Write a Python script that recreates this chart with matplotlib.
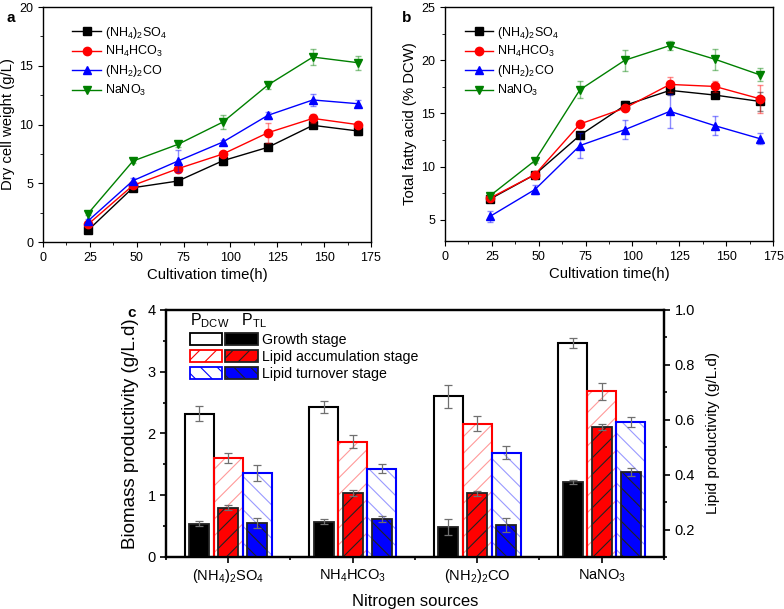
import matplotlib
matplotlib.use("Agg")
import numpy as np
import matplotlib.pyplot as plt
from matplotlib.patches import Patch
from matplotlib.legend_handler import HandlerTuple
from matplotlib.ticker import MultipleLocator

plt.rcParams["font.family"] = ["Liberation Sans", "DejaVu Sans"]
plt.rcParams["mathtext.fontset"] = "custom"
plt.rcParams["mathtext.rm"] = "Liberation Sans"
plt.rcParams["mathtext.it"] = "Liberation Sans"
plt.rcParams["hatch.linewidth"] = 0.8

# ── data ──────────────────────────────────────────────────
time_h = [24, 48, 72, 96, 120, 144, 168]
series_names = [r"(NH$_4$)$_2$SO$_4$", r"NH$_4$HCO$_3$", r"(NH$_2$)$_2$CO", r"NaNO$_3$"]

dcw_so4  = [0.99, 4.62, 5.19, 6.92, 8.06, 9.93, 9.45]
dcw_hco3 = [1.50, 4.82, 6.24, 7.49, 9.30, 10.52, 9.99]
dcw_urea = [1.79, 5.22, 6.89, 8.51, 10.78, 12.09, 11.77]
dcw_no3  = [2.41, 6.89, 8.31, 10.21, 13.36, 15.74, 15.26]
dcw_so4_err  = [0.15, 0.10, 0.12, 0.40, 0.15, 0.20, 0.35]
dcw_hco3_err = [0.15, 0.15, 0.30, 0.15, 0.85, 0.40, 0.20]
dcw_urea_err = [0.15, 0.20, 0.90, 0.20, 0.30, 0.50, 0.30]
dcw_no3_err  = [0.15, 0.15, 0.20, 0.60, 0.30, 0.70, 0.60]

tfa_so4  = [6.94, 9.25, 12.94, 15.75, 17.16, 16.72, 16.12]
tfa_hco3 = [7.03, 9.25, 14.00, 15.50, 17.72, 17.53, 16.37]
tfa_urea = [5.31, 7.84, 11.97, 13.47, 15.19, 13.84, 12.62]
tfa_no3  = [7.25, 10.56, 17.22, 20.00, 21.37, 20.09, 18.62]
tfa_so4_err  = [0.20, 0.20, 0.30, 0.40, 0.40, 0.30, 0.90]
tfa_hco3_err = [0.20, 0.20, 0.20, 0.30, 0.70, 0.50, 1.30]
tfa_urea_err = [0.50, 0.40, 1.20, 0.90, 1.60, 0.90, 0.50]
tfa_no3_err  = [0.20, 0.20, 0.80, 1.00, 0.40, 1.00, 0.60]

sources = [r"(NH$_4$)$_2$SO$_4$", r"NH$_4$HCO$_3$", r"(NH$_2$)$_2$CO", r"NaNO$_3$"]
stages = ["Growth stage", "Lipid accumulation stage", "Lipid turnover stage"]
# biomass productivity P_DCW (g/L.d)
pdcw_growth   = [2.32, 2.43, 2.60, 3.46]
pdcw_accum    = [1.61, 1.87, 2.16, 2.68]
pdcw_turnover = [1.36, 1.43, 1.69, 2.19]
pdcw_growth_err   = [0.12, 0.10, 0.19, 0.08]
pdcw_accum_err    = [0.08, 0.10, 0.12, 0.13]
pdcw_turnover_err = [0.13, 0.07, 0.10, 0.08]
# lipid productivity P_TL (g/L.d)
ptl_growth   = [0.222, 0.229, 0.210, 0.372]
ptl_accum    = [0.280, 0.334, 0.332, 0.575]
ptl_turnover = [0.224, 0.238, 0.217, 0.410]
ptl_growth_err   = [0.009, 0.009, 0.030, 0.007]
ptl_accum_err    = [0.009, 0.011, 0.009, 0.011]
ptl_turnover_err = [0.018, 0.011, 0.025, 0.016]

line_colors = ["black", "red", "blue", "green"]
markers = ["s", "o", "^", "v"]

fig = plt.figure(figsize=(7.84, 6.09), dpi=100)
ax_a = fig.add_axes([0.0548, 0.6026, 0.4184, 0.3859])
ax_b = fig.add_axes([0.5676, 0.6043, 0.4184, 0.3842])
ax_c = fig.add_axes([0.2117, 0.0854, 0.6352, 0.4056])


def line_panel(ax, ys, errs, ylim, ylabel, major, legend_x):
    for y, e, c, m, name in zip(ys, errs, line_colors, markers, series_names):
        ax.errorbar(time_h, y, yerr=e, fmt="none", ecolor=c, alpha=0.45,
                    elinewidth=1, capsize=2, capthick=1)
        ax.plot(time_h, y, color=c, marker=m, markersize=6, linewidth=1,
                label=name)
    ax.set_xlim(0, 175)
    ax.set_ylim(*ylim)
    ax.xaxis.set_major_locator(MultipleLocator(25))
    ax.xaxis.set_minor_locator(MultipleLocator(12.5))
    ax.yaxis.set_major_locator(MultipleLocator(major))
    ax.yaxis.set_minor_locator(MultipleLocator(major / 2))
    ax.tick_params(which="both", direction="out", labelsize=9, top=False, right=False)
    ax.tick_params(which="major", length=3.5)
    ax.tick_params(which="minor", length=2)
    ax.set_xlabel("Cultivation time(h)", fontsize=10.7, labelpad=3)
    ax.set_ylabel(ylabel, fontsize=10.7, labelpad=3)
    ax.legend(loc="upper left", bbox_to_anchor=(legend_x, 0.925), frameon=False,
              fontsize=9, handlelength=2.3, handletextpad=0.3,
              labelspacing=0.3, borderpad=0, borderaxespad=0)
    for s in ax.spines.values():
        s.set_linewidth(1)


line_panel(ax_a, [dcw_so4, dcw_hco3, dcw_urea, dcw_no3],
           [dcw_so4_err, dcw_hco3_err, dcw_urea_err, dcw_no3_err],
           (0, 20), "Dry cell weight (g/L)", 5, 0.09)
line_panel(ax_b, [tfa_so4, tfa_hco3, tfa_urea, tfa_no3],
           [tfa_so4_err, tfa_hco3_err, tfa_urea_err, tfa_no3_err],
           (3, 25), "Total fatty acid (% DCW)", 5, 0.06)

fig.text(0.008, 0.982, "a", fontsize=11, fontweight="bold", va="top")
fig.text(0.513, 0.982, "b", fontsize=11, fontweight="bold", va="top")
fig.text(0.163, 0.498, "c", fontsize=11, fontweight="bold", va="top")

# ── panel c ───────────────────────────────────────────────
x = np.arange(1, len(sources) + 1)
w = 0.232
wf = 0.16
ax_r = ax_c.twinx()

open_styles = [
    (pdcw_growth, pdcw_growth_err, "white", "black", "black", ""),
    (pdcw_accum, pdcw_accum_err, "white", "#ff9a9a", "red", "//"),
    (pdcw_turnover, pdcw_turnover_err, "white", "#9a9aff", "blue", "\\\\"),
]
fill_styles = [
    (ptl_growth, ptl_growth_err, "black", ""),
    (ptl_accum, ptl_accum_err, "red", "//"),
    (ptl_turnover, ptl_turnover_err, "blue", "\\\\"),
]

for i, (vals, errs, fc, hc, ec, hatch) in enumerate(open_styles):
    xi = x + (i - 1) * w
    ax_c.bar(xi, vals, width=w, color=fc, edgecolor=hc, hatch=hatch,
             linewidth=0, zorder=1)
    ax_c.bar(xi, vals, width=w, fill=False, edgecolor=ec, linewidth=1.5, zorder=2)
    ax_c.errorbar(xi, vals, yerr=errs, fmt="none", ecolor="#707070",
                  elinewidth=0.9, capsize=3, capthick=0.9, zorder=3)

for i, (vals, errs, fc, hatch) in enumerate(fill_styles):
    xi = x + (i - 1) * w
    ax_r.bar(xi, vals, width=wf, color=fc, edgecolor="#222222", hatch=hatch,
             linewidth=1.3, zorder=2)
    ax_r.errorbar(xi, vals, yerr=errs, fmt="none", ecolor="#707070",
                  elinewidth=0.9, capsize=3, capthick=0.9, zorder=3)

ax_c.set_xlim(0.5, 4.5)
ax_c.set_ylim(0, 4)
ax_r.set_ylim(0.1, 1.0)
ax_c.set_xticks(x)
ax_c.set_xticklabels(sources, fontsize=10)
ax_c.set_xticks([0.5, 1.5, 2.5, 3.5, 4.5], minor=True)
ax_c.yaxis.set_major_locator(MultipleLocator(1))
ax_c.yaxis.set_minor_locator(MultipleLocator(0.5))
ax_r.yaxis.set_minor_locator(MultipleLocator(0.1))
ax_r.set_yticks([0.2, 0.4, 0.6, 0.8, 1.0])
ax_r.set_yticklabels(["0.2", "0.4", "0.6", "0.8", "1.0"])
for a in (ax_c, ax_r):
    a.tick_params(which="both", direction="out", labelsize=10.5)
    a.tick_params(which="major", length=4, width=1.2)
    a.tick_params(which="minor", length=2.5, width=1.2)
    for s in a.spines.values():
        s.set_linewidth(1.6)
ax_c.set_xlabel("Nitrogen sources", fontsize=12, labelpad=6)
ax_c.set_ylabel("Biomass productivity (g/L.d)", fontsize=13.5, labelpad=6)
ax_r.set_ylabel("Lipid productivity (g/L.d)", fontsize=11, labelpad=8)

handles = []
for (vals, errs, fc, hc, ec, hatch), (v2, e2, fc2, hatch2) in zip(open_styles, fill_styles):
    p_open = Patch(facecolor="white", edgecolor=ec, hatch=hatch, linewidth=1.3)
    p_fill = Patch(facecolor=fc2, edgecolor="#222222", hatch=hatch2, linewidth=1.3)
    handles.append((p_open, p_fill))
leg = ax_c.legend(handles, stages, handler_map={tuple: HandlerTuple(ndivide=None, pad=0.2)},
                  loc="upper left", bbox_to_anchor=(0.045, 1.0), frameon=False,
                  fontsize=10.2, handlelength=4.8, handleheight=0.95,
                  handletextpad=0.3, labelspacing=0.2, borderpad=0, borderaxespad=0.1,
                  title=r"P$_{\mathregular{DCW}}$   P$_{\mathregular{TL}}$",
                  title_fontsize=11.5, alignment="left")

fig.savefig("out.png", dpi=100)
